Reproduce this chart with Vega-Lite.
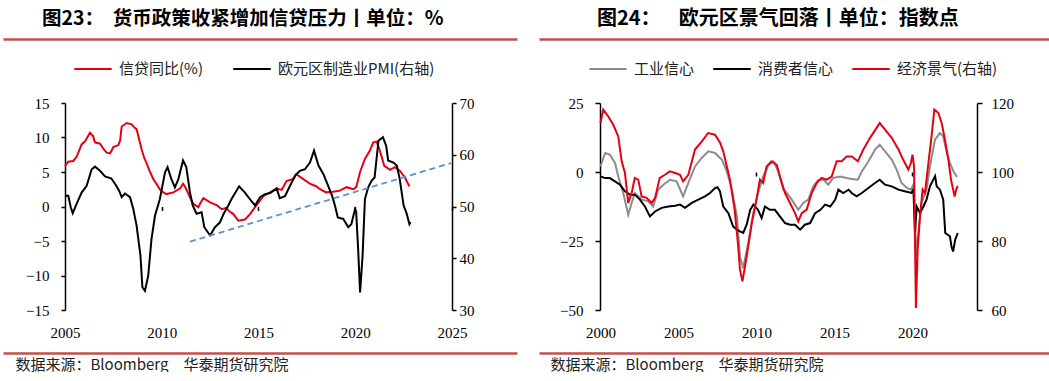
{
  "$schema": "https://vega.github.io/schema/vega-lite/v6.json",
  "background": "white",
  "padding": {"left": 3, "top": 8, "right": 0, "bottom": 0},
  "spacing": 22,
  "config": {
    "view": {"stroke": null},
    "axis": {"grid": false, "title": null, "labelFont": "Times New Roman, Liberation Serif, serif", "labelFontSize": 15, "labelColor": "#000", "domainColor": "#000", "tickColor": "#000", "domainWidth": 1.5, "tickWidth": 1.5},
    "title": {"font": "Noto Sans CJK SC", "fontSize": 20, "fontWeight": "bold", "color": "#000", "anchor": "start", "offset": 10},
    "legend": {"orient": "none", "direction": "horizontal", "title": null, "symbolType": "stroke", "symbolStrokeWidth": 2, "symbolSize": 1400, "labelFont": "Noto Sans CJK SC", "labelFontSize": 15, "labelColor": "#222", "labelOffset": 6, "columnPadding": 26, "labelLimit": 400}
  },
  "datasets": {
    "credit": [
      {"t": 2005.0, "v": 5.9}, {"t": 2005.17, "v": 6.5}, {"t": 2005.43, "v": 6.6}, {"t": 2005.6, "v": 7.2}, {"t": 2005.86, "v": 9.0}, {"t": 2006.05, "v": 9.5}, {"t": 2006.29, "v": 10.7}, {"t": 2006.45, "v": 10.2}, {"t": 2006.55, "v": 9.3}, {"t": 2006.81, "v": 9.1}, {"t": 2007.0, "v": 8.3}, {"t": 2007.15, "v": 7.8}, {"t": 2007.33, "v": 7.7}, {"t": 2007.5, "v": 8.6}, {"t": 2007.76, "v": 8.9}, {"t": 2007.85, "v": 9.6}, {"t": 2007.93, "v": 11.6}, {"t": 2008.19, "v": 12.1}, {"t": 2008.45, "v": 11.9}, {"t": 2008.6, "v": 11.4}, {"t": 2008.7, "v": 11.2}, {"t": 2008.96, "v": 8.3}, {"t": 2009.1, "v": 7.0}, {"t": 2009.2, "v": 6.4}, {"t": 2009.35, "v": 5.3}, {"t": 2009.56, "v": 4.0}, {"t": 2009.75, "v": 3.2}, {"t": 2009.9, "v": 2.5}, {"t": 2010.1, "v": 2.0}, {"t": 2010.25, "v": 1.8}, {"t": 2010.6, "v": 2.05}, {"t": 2010.94, "v": 2.6}, {"t": 2011.1, "v": 3.3}, {"t": 2011.2, "v": 2.9}, {"t": 2011.35, "v": 2.0}, {"t": 2011.46, "v": 1.3}, {"t": 2011.63, "v": 0.4}, {"t": 2011.89, "v": -0.1}, {"t": 2012.0, "v": 0.5}, {"t": 2012.15, "v": 1.2}, {"t": 2012.5, "v": 0.6}, {"t": 2012.84, "v": 0.2}, {"t": 2013.1, "v": -0.4}, {"t": 2013.33, "v": -0.2}, {"t": 2013.5, "v": -0.7}, {"t": 2013.7, "v": -1.1}, {"t": 2013.96, "v": -2.05}, {"t": 2014.3, "v": -1.9}, {"t": 2014.56, "v": -1.1}, {"t": 2014.9, "v": 0.2}, {"t": 2015.25, "v": 1.5}, {"t": 2015.6, "v": 2.05}, {"t": 2015.94, "v": 2.6}, {"t": 2016.2, "v": 2.4}, {"t": 2016.45, "v": 3.7}, {"t": 2016.8, "v": 4.0}, {"t": 2016.95, "v": 4.7}, {"t": 2017.3, "v": 4.0}, {"t": 2017.66, "v": 3.3}, {"t": 2018.0, "v": 2.9}, {"t": 2018.18, "v": 2.5}, {"t": 2018.5, "v": 2.05}, {"t": 2018.86, "v": 2.15}, {"t": 2019.2, "v": 2.3}, {"t": 2019.55, "v": 2.8}, {"t": 2019.9, "v": 2.5}, {"t": 2020.05, "v": 2.8}, {"t": 2020.25, "v": 5.0}, {"t": 2020.5, "v": 6.9}, {"t": 2020.76, "v": 8.1}, {"t": 2020.93, "v": 9.3}, {"t": 2021.1, "v": 9.4}, {"t": 2021.25, "v": 8.3}, {"t": 2021.5, "v": 5.9}, {"t": 2021.8, "v": 5.3}, {"t": 2022.05, "v": 5.7}, {"t": 2022.3, "v": 5.2}, {"t": 2022.57, "v": 4.2}, {"t": 2022.8, "v": 2.9}
    ],
    "pmi": [
      {"t": 2005.0, "v": 52.1}, {"t": 2005.17, "v": 52.1}, {"t": 2005.3, "v": 49.8}, {"t": 2005.4, "v": 48.7}, {"t": 2005.6, "v": 50.5}, {"t": 2005.86, "v": 52.7}, {"t": 2006.12, "v": 54.0}, {"t": 2006.38, "v": 57.2}, {"t": 2006.55, "v": 57.7}, {"t": 2006.81, "v": 56.9}, {"t": 2007.07, "v": 55.8}, {"t": 2007.4, "v": 55.4}, {"t": 2007.65, "v": 54.0}, {"t": 2007.8, "v": 53.0}, {"t": 2007.93, "v": 51.8}, {"t": 2008.1, "v": 52.5}, {"t": 2008.36, "v": 51.8}, {"t": 2008.53, "v": 49.5}, {"t": 2008.7, "v": 46.3}, {"t": 2008.9, "v": 40.5}, {"t": 2009.0, "v": 34.4}, {"t": 2009.13, "v": 33.7}, {"t": 2009.3, "v": 36.6}, {"t": 2009.47, "v": 43.7}, {"t": 2009.65, "v": 48.2}, {"t": 2009.9, "v": 51.4}, {"t": 2010.17, "v": 56.6}, {"t": 2010.3, "v": 57.6}, {"t": 2010.5, "v": 55.3}, {"t": 2010.68, "v": 53.7}, {"t": 2010.86, "v": 55.3}, {"t": 2011.1, "v": 58.9}, {"t": 2011.27, "v": 57.6}, {"t": 2011.46, "v": 52.7}, {"t": 2011.6, "v": 50.2}, {"t": 2011.8, "v": 48.6}, {"t": 2012.06, "v": 48.9}, {"t": 2012.2, "v": 46.0}, {"t": 2012.5, "v": 44.4}, {"t": 2012.75, "v": 46.0}, {"t": 2013.0, "v": 46.9}, {"t": 2013.2, "v": 48.6}, {"t": 2013.44, "v": 50.2}, {"t": 2013.6, "v": 51.4}, {"t": 2014.0, "v": 53.9}, {"t": 2014.3, "v": 52.7}, {"t": 2014.56, "v": 51.4}, {"t": 2014.82, "v": 50.2}, {"t": 2015.08, "v": 51.8}, {"t": 2015.34, "v": 52.4}, {"t": 2015.6, "v": 52.6}, {"t": 2015.94, "v": 53.5}, {"t": 2016.1, "v": 51.6}, {"t": 2016.37, "v": 52.0}, {"t": 2016.63, "v": 54.0}, {"t": 2016.9, "v": 56.0}, {"t": 2017.14, "v": 56.9}, {"t": 2017.4, "v": 57.2}, {"t": 2017.66, "v": 58.5}, {"t": 2017.87, "v": 60.8}, {"t": 2018.1, "v": 57.9}, {"t": 2018.35, "v": 56.3}, {"t": 2018.6, "v": 54.0}, {"t": 2018.8, "v": 52.1}, {"t": 2018.95, "v": 50.2}, {"t": 2019.1, "v": 47.9}, {"t": 2019.38, "v": 47.6}, {"t": 2019.64, "v": 46.0}, {"t": 2019.8, "v": 46.6}, {"t": 2019.99, "v": 49.5}, {"t": 2020.05, "v": 48.9}, {"t": 2020.15, "v": 41.8}, {"t": 2020.25, "v": 33.4}, {"t": 2020.38, "v": 40.5}, {"t": 2020.5, "v": 51.4}, {"t": 2020.67, "v": 53.7}, {"t": 2020.85, "v": 55.0}, {"t": 2021.0, "v": 55.6}, {"t": 2021.2, "v": 62.7}, {"t": 2021.43, "v": 63.4}, {"t": 2021.6, "v": 61.7}, {"t": 2021.7, "v": 58.9}, {"t": 2021.97, "v": 58.5}, {"t": 2022.15, "v": 57.9}, {"t": 2022.3, "v": 55.3}, {"t": 2022.5, "v": 50.2}, {"t": 2022.66, "v": 48.6}, {"t": 2022.8, "v": 46.6}, {"t": 2022.85, "v": 47.0}
    ],
    "trend": [{"t": 2011.46, "v": -5.1}, {"t": 2024.95, "v": 6.3}],
    "industry": [
      {"t": 2000.0, "v": 2.0}, {"t": 2000.3, "v": 6.9}, {"t": 2000.6, "v": 6.3}, {"t": 2000.93, "v": 3.3}, {"t": 2001.14, "v": -1.6}, {"t": 2001.46, "v": -7.6}, {"t": 2001.78, "v": -15.5}, {"t": 2002.0, "v": -11.2}, {"t": 2002.2, "v": -7.6}, {"t": 2002.65, "v": -10.0}, {"t": 2003.06, "v": -10.6}, {"t": 2003.38, "v": -12.5}, {"t": 2003.7, "v": -6.4}, {"t": 2004.03, "v": -4.6}, {"t": 2004.46, "v": -2.8}, {"t": 2004.88, "v": -3.4}, {"t": 2005.3, "v": -8.8}, {"t": 2005.63, "v": -4.0}, {"t": 2006.06, "v": 2.0}, {"t": 2006.49, "v": 5.1}, {"t": 2006.92, "v": 7.5}, {"t": 2007.35, "v": 6.9}, {"t": 2007.66, "v": 5.1}, {"t": 2007.78, "v": 4.5}, {"t": 2008.1, "v": 0.2}, {"t": 2008.4, "v": -5.8}, {"t": 2008.75, "v": -16.1}, {"t": 2008.94, "v": -30.6}, {"t": 2009.15, "v": -34.8}, {"t": 2009.47, "v": -25.7}, {"t": 2009.8, "v": -14.9}, {"t": 2010.1, "v": -7.6}, {"t": 2010.43, "v": -1.6}, {"t": 2010.77, "v": 2.6}, {"t": 2011.09, "v": 3.8}, {"t": 2011.4, "v": 0.2}, {"t": 2011.73, "v": -6.4}, {"t": 2011.94, "v": -7.6}, {"t": 2012.26, "v": -10.0}, {"t": 2012.68, "v": -13.7}, {"t": 2013.0, "v": -11.2}, {"t": 2013.32, "v": -10.0}, {"t": 2013.64, "v": -5.2}, {"t": 2013.97, "v": -2.8}, {"t": 2014.3, "v": -2.8}, {"t": 2014.6, "v": -4.6}, {"t": 2014.9, "v": -2.2}, {"t": 2015.35, "v": -1.6}, {"t": 2015.78, "v": -2.2}, {"t": 2016.1, "v": -2.5}, {"t": 2016.5, "v": -2.8}, {"t": 2016.75, "v": 0.2}, {"t": 2017.17, "v": 3.8}, {"t": 2017.6, "v": 8.1}, {"t": 2017.9, "v": 9.9}, {"t": 2018.24, "v": 7.5}, {"t": 2018.67, "v": 4.5}, {"t": 2018.99, "v": 0.8}, {"t": 2019.3, "v": -4.0}, {"t": 2019.64, "v": -5.8}, {"t": 2019.9, "v": -6.4}, {"t": 2020.06, "v": -4.6}, {"t": 2020.16, "v": -16.1}, {"t": 2020.22, "v": -30.6}, {"t": 2020.37, "v": -22.1}, {"t": 2020.58, "v": -11.2}, {"t": 2020.9, "v": -6.4}, {"t": 2021.12, "v": 2.0}, {"t": 2021.44, "v": 11.7}, {"t": 2021.76, "v": 14.1}, {"t": 2021.97, "v": 12.9}, {"t": 2022.2, "v": 6.9}, {"t": 2022.4, "v": 3.3}, {"t": 2022.63, "v": 0.2}, {"t": 2022.85, "v": -1.8}
    ],
    "consumer": [
      {"t": 2000.0, "v": -1.6}, {"t": 2000.3, "v": -2.2}, {"t": 2000.6, "v": -2.2}, {"t": 2000.93, "v": -3.4}, {"t": 2001.25, "v": -4.6}, {"t": 2001.57, "v": -7.0}, {"t": 2001.9, "v": -8.2}, {"t": 2002.2, "v": -8.2}, {"t": 2002.53, "v": -10.0}, {"t": 2002.85, "v": -12.5}, {"t": 2003.17, "v": -16.1}, {"t": 2003.5, "v": -14.3}, {"t": 2003.92, "v": -13.0}, {"t": 2004.35, "v": -12.5}, {"t": 2004.78, "v": -12.2}, {"t": 2005.1, "v": -11.8}, {"t": 2005.42, "v": -13.0}, {"t": 2005.85, "v": -11.2}, {"t": 2006.27, "v": -10.0}, {"t": 2006.7, "v": -8.8}, {"t": 2007.02, "v": -7.6}, {"t": 2007.34, "v": -5.8}, {"t": 2007.5, "v": -5.5}, {"t": 2007.66, "v": -7.0}, {"t": 2007.87, "v": -12.5}, {"t": 2008.2, "v": -14.9}, {"t": 2008.5, "v": -19.7}, {"t": 2008.75, "v": -20.9}, {"t": 2008.94, "v": -21.5}, {"t": 2009.15, "v": -22.1}, {"t": 2009.37, "v": -19.1}, {"t": 2009.6, "v": -13.7}, {"t": 2009.8, "v": -11.8}, {"t": 2010.1, "v": -13.7}, {"t": 2010.33, "v": -16.7}, {"t": 2010.54, "v": -12.5}, {"t": 2010.86, "v": -13.7}, {"t": 2011.18, "v": -13.7}, {"t": 2011.5, "v": -16.1}, {"t": 2011.83, "v": -18.5}, {"t": 2012.15, "v": -19.1}, {"t": 2012.47, "v": -19.1}, {"t": 2012.8, "v": -20.9}, {"t": 2013.1, "v": -19.1}, {"t": 2013.44, "v": -18.5}, {"t": 2013.76, "v": -14.9}, {"t": 2014.1, "v": -13.7}, {"t": 2014.4, "v": -11.8}, {"t": 2014.73, "v": -12.5}, {"t": 2015.05, "v": -10.0}, {"t": 2015.25, "v": -6.4}, {"t": 2015.56, "v": -7.6}, {"t": 2015.9, "v": -6.4}, {"t": 2016.1, "v": -7.6}, {"t": 2016.42, "v": -8.8}, {"t": 2016.75, "v": -7.6}, {"t": 2017.17, "v": -5.8}, {"t": 2017.6, "v": -4.0}, {"t": 2017.9, "v": -2.8}, {"t": 2018.24, "v": -4.6}, {"t": 2018.67, "v": -5.2}, {"t": 2019.1, "v": -6.4}, {"t": 2019.5, "v": -7.0}, {"t": 2019.93, "v": -7.6}, {"t": 2020.06, "v": -6.4}, {"t": 2020.16, "v": -22.1}, {"t": 2020.27, "v": -12.5}, {"t": 2020.48, "v": -14.9}, {"t": 2020.7, "v": -12.5}, {"t": 2020.9, "v": -10.0}, {"t": 2021.12, "v": -5.2}, {"t": 2021.33, "v": -2.8}, {"t": 2021.45, "v": -1.5}, {"t": 2021.55, "v": -5.2}, {"t": 2021.76, "v": -6.4}, {"t": 2021.97, "v": -10.0}, {"t": 2022.1, "v": -22.1}, {"t": 2022.4, "v": -23.3}, {"t": 2022.5, "v": -27.0}, {"t": 2022.6, "v": -28.8}, {"t": 2022.74, "v": -24.5}, {"t": 2022.9, "v": -22.1}
    ],
    "esi": [
      {"t": 2000.0, "v": 114.2}, {"t": 2000.18, "v": 118.1}, {"t": 2000.5, "v": 116.1}, {"t": 2000.82, "v": 113.7}, {"t": 2001.14, "v": 110.3}, {"t": 2001.36, "v": 103.1}, {"t": 2001.57, "v": 99.7}, {"t": 2001.78, "v": 91.0}, {"t": 2002.0, "v": 93.9}, {"t": 2002.2, "v": 98.3}, {"t": 2002.42, "v": 97.8}, {"t": 2002.64, "v": 92.9}, {"t": 2002.96, "v": 92.5}, {"t": 2003.28, "v": 91.0}, {"t": 2003.5, "v": 92.5}, {"t": 2003.8, "v": 98.3}, {"t": 2004.13, "v": 99.2}, {"t": 2004.45, "v": 100.2}, {"t": 2004.78, "v": 99.7}, {"t": 2005.1, "v": 99.2}, {"t": 2005.3, "v": 97.3}, {"t": 2005.63, "v": 99.2}, {"t": 2006.06, "v": 106.5}, {"t": 2006.5, "v": 108.9}, {"t": 2006.9, "v": 111.3}, {"t": 2007.34, "v": 110.8}, {"t": 2007.66, "v": 108.6}, {"t": 2007.87, "v": 106.0}, {"t": 2008.1, "v": 101.6}, {"t": 2008.3, "v": 97.8}, {"t": 2008.6, "v": 89.1}, {"t": 2008.83, "v": 78.4}, {"t": 2008.94, "v": 71.7}, {"t": 2009.1, "v": 68.3}, {"t": 2009.37, "v": 75.5}, {"t": 2009.7, "v": 85.2}, {"t": 2010.0, "v": 92.0}, {"t": 2010.22, "v": 97.8}, {"t": 2010.43, "v": 96.8}, {"t": 2010.65, "v": 101.6}, {"t": 2010.97, "v": 103.1}, {"t": 2011.3, "v": 102.1}, {"t": 2011.5, "v": 98.7}, {"t": 2011.83, "v": 93.9}, {"t": 2012.15, "v": 91.0}, {"t": 2012.47, "v": 88.1}, {"t": 2012.68, "v": 85.7}, {"t": 2012.9, "v": 88.1}, {"t": 2013.22, "v": 89.1}, {"t": 2013.54, "v": 93.9}, {"t": 2013.86, "v": 96.8}, {"t": 2014.18, "v": 98.3}, {"t": 2014.5, "v": 97.8}, {"t": 2014.82, "v": 98.7}, {"t": 2015.14, "v": 103.1}, {"t": 2015.46, "v": 103.1}, {"t": 2015.78, "v": 104.5}, {"t": 2016.1, "v": 104.5}, {"t": 2016.5, "v": 103.1}, {"t": 2016.85, "v": 106.5}, {"t": 2017.28, "v": 109.9}, {"t": 2017.7, "v": 112.8}, {"t": 2017.9, "v": 114.2}, {"t": 2018.24, "v": 112.3}, {"t": 2018.67, "v": 109.9}, {"t": 2019.1, "v": 106.5}, {"t": 2019.4, "v": 103.6}, {"t": 2019.73, "v": 100.7}, {"t": 2019.9, "v": 102.6}, {"t": 2020.0, "v": 105.0}, {"t": 2020.1, "v": 101.6}, {"t": 2020.16, "v": 80.4}, {"t": 2020.22, "v": 60.6}, {"t": 2020.33, "v": 77.5}, {"t": 2020.48, "v": 87.1}, {"t": 2020.65, "v": 94.9}, {"t": 2020.8, "v": 93.9}, {"t": 2020.97, "v": 100.7}, {"t": 2021.2, "v": 109.4}, {"t": 2021.4, "v": 118.1}, {"t": 2021.66, "v": 117.1}, {"t": 2021.87, "v": 114.2}, {"t": 2022.08, "v": 109.4}, {"t": 2022.3, "v": 103.6}, {"t": 2022.47, "v": 97.8}, {"t": 2022.7, "v": 92.9}, {"t": 2022.8, "v": 94.9}, {"t": 2022.9, "v": 96.0}
    ]
  },
  "hconcat": [
    {
      "width": 514,
      "height": 207,
      "title": {"text": "图23：\u00a0\u00a0货币政策收紧增加信贷压力丨单位：%", "dx": 39, "fontSize": 19.5},
      "resolve": {"scale": {"y": "independent"}, "axis": {"x": "independent", "y": "independent"}},
      "layer": [
        {
          "data": {"name": "credit"},
          "mark": {"type": "line", "strokeWidth": 2},
          "encoding": {
            "x": {"field": "t", "type": "quantitative", "scale": {"domain": [2001.796, 2028.36], "nice": false, "zero": false},
                  "axis": {"orient": "bottom", "values": [2005, 2010, 2015, 2020, 2025], "format": "d", "domain": false, "ticks": false, "labelPadding": 15, "labelFont": "Times New Roman, Liberation Serif, serif", "labelFontSize": 15}},
            "y": {"field": "v", "type": "quantitative", "scale": {"domain": [-15, 15], "nice": false, "zero": false},
                  "axis": {"orient": "left", "offset": -62, "values": [-15, -10, -5, 0, 5, 10, 15], "tickSize": 4, "labelPadding": 12, "labelFont": "Times New Roman, Liberation Serif, serif", "labelFontSize": 15}},
            "color": {"datum": "信贷同比(%)", "scale": {"domain": ["信贷同比(%)", "欧元区制造业PMI(右轴)"], "range": ["#E60012", "#000000"]},
                      "legend": {"legendX": 70, "legendY": -54, "columnPadding": 26}}
          }
        },
        {
          "data": {"name": "pmi"},
          "mark": {"type": "line", "strokeWidth": 2},
          "encoding": {
            "x": {"field": "t", "type": "quantitative", "scale": {"domain": [2001.796, 2028.36], "nice": false, "zero": false},
                  "axis": {"orient": "bottom", "offset": -103.5, "values": [2010, 2015, 2020, 2025], "labels": false, "domain": false, "tickSize": 4}},
            "y": {"field": "v", "type": "quantitative", "scale": {"domain": [30, 70], "nice": false, "zero": false},
                  "axis": {"orient": "right", "offset": -65, "values": [30, 40, 50, 60, 70], "tickSize": 4, "labelPadding": 3, "labelFont": "Times New Roman, Liberation Serif, serif", "labelFontSize": 15}},
            "color": {"datum": "欧元区制造业PMI(右轴)", "legend": {"legendX": 70, "legendY": -54, "columnPadding": 26}}
          }
        },
        {
          "data": {"name": "trend"},
          "mark": {"type": "line", "strokeWidth": 1.8, "strokeDash": [6, 4], "color": "#5B8FD0"},
          "encoding": {
            "x": {"field": "t", "type": "quantitative", "scale": {"domain": [2001.796, 2028.36], "nice": false, "zero": false},
                  "axis": {"orient": "top", "offset": 64, "labels": false, "ticks": false, "domain": true, "domainColor": "#C0504D", "domainWidth": 2.5}},
            "y": {"field": "v", "type": "quantitative", "scale": {"domain": [-15, 15], "nice": false, "zero": false}, "axis": null}
          }
        },
        {
          "mark": {"type": "rule", "color": "#000", "strokeWidth": 1.5},
          "encoding": {
            "x": {"datum": 2005, "type": "quantitative", "scale": {"domain": [2001.796, 2028.36], "nice": false, "zero": false},
                  "axis": {"orient": "bottom", "offset": 43, "labels": false, "ticks": false, "domain": true, "domainColor": "#C0504D", "domainWidth": 2.5,
                           "title": "数据来源：Bloomberg　华泰期货研究院", "titleFont": "Noto Sans CJK SC", "titleFontWeight": "normal", "titleFontSize": 15, "titleColor": "#222", "titleAnchor": "start", "titleAlign": "left", "titleX": 12, "titleY": 11, "titleBaseline": "middle"}},
            "x2": {"datum": 2025},
            "y": {"datum": 0, "type": "quantitative", "scale": {"domain": [-15, 15], "nice": false, "zero": false}, "axis": null}
          }
        }
      ]
    },
    {
      "width": 510,
      "height": 207,
      "title": {"text": "图24：\u00a0\u00a0\u00a0\u00a0欧元区景气回落丨单位：指数点", "dx": 58, "fontSize": 20},
      "resolve": {"scale": {"y": "independent"}, "axis": {"x": "independent", "y": "independent"}},
      "layer": [
        {
          "data": {"name": "industry"},
          "mark": {"type": "line", "strokeWidth": 2},
          "encoding": {
            "x": {"field": "t", "type": "quantitative", "scale": {"domain": [1996.06, 2028.75], "nice": false, "zero": false},
                  "axis": {"orient": "bottom", "values": [2000, 2005, 2010, 2015, 2020], "format": "d", "domain": false, "ticks": false, "labelPadding": 15, "labelFont": "Times New Roman, Liberation Serif, serif", "labelFontSize": 15}},
            "y": {"field": "v", "type": "quantitative", "scale": {"domain": [-50, 25], "nice": false, "zero": false},
                  "axis": {"orient": "left", "offset": -61, "values": [-50, -25, 0, 25], "tickSize": 5, "labelPadding": 12, "labelFont": "Times New Roman, Liberation Serif, serif", "labelFontSize": 15}},
            "color": {"datum": "工业信心", "scale": {"domain": ["工业信心", "消费者信心", "经济景气(右轴)"], "range": ["#8C8C8C", "#000000", "#E60012"]},
                      "legend": {"legendX": 49, "legendY": -54, "columnPadding": 14}}
          }
        },
        {
          "data": {"name": "consumer"},
          "mark": {"type": "line", "strokeWidth": 2},
          "encoding": {
            "x": {"field": "t", "type": "quantitative", "scale": {"domain": [1996.06, 2028.75], "nice": false, "zero": false},
                  "axis": {"orient": "bottom", "offset": -138, "values": [2010, 2020], "labels": false, "domain": false, "tickSize": 4}},
            "y": {"field": "v", "type": "quantitative", "scale": {"domain": [-50, 25], "nice": false, "zero": false}, "axis": null},
            "color": {"datum": "消费者信心", "legend": {"legendX": 49, "legendY": -54, "columnPadding": 14}}
          }
        },
        {
          "data": {"name": "esi"},
          "mark": {"type": "line", "strokeWidth": 2},
          "encoding": {
            "x": {"field": "t", "type": "quantitative", "scale": {"domain": [1996.06, 2028.75], "nice": false, "zero": false},
                  "axis": {"orient": "top", "offset": 64, "labels": false, "ticks": false, "domain": true, "domainColor": "#C0504D", "domainWidth": 2.5}},
            "y": {"field": "v", "type": "quantitative", "scale": {"domain": [60, 120], "nice": false, "zero": false},
                  "axis": {"orient": "right", "offset": -72, "values": [60, 80, 100, 120], "tickSize": 5, "labelPadding": 9, "labelFont": "Times New Roman, Liberation Serif, serif", "labelFontSize": 15}},
            "color": {"datum": "经济景气(右轴)", "legend": {"legendX": 49, "legendY": -54, "columnPadding": 14}}
          }
        },
        {
          "mark": {"type": "rule", "color": "#000", "strokeWidth": 1.5},
          "encoding": {
            "x": {"datum": 2000, "type": "quantitative", "scale": {"domain": [1996.06, 2028.75], "nice": false, "zero": false},
                  "axis": {"orient": "bottom", "offset": 43, "labels": false, "ticks": false, "domain": true, "domainColor": "#C0504D", "domainWidth": 2.5,
                           "title": "数据来源：Bloomberg　华泰期货研究院", "titleFont": "Noto Sans CJK SC", "titleFontWeight": "normal", "titleFontSize": 15, "titleColor": "#222", "titleAnchor": "start", "titleAlign": "left", "titleX": 11, "titleY": 11, "titleBaseline": "middle"}},
            "x2": {"datum": 2024.1},
            "y": {"datum": 0, "type": "quantitative", "scale": {"domain": [-50, 25], "nice": false, "zero": false}, "axis": null}
          }
        }
      ]
    }
  ],
  "resolve": {"scale": {"color": "independent"}, "legend": {"color": "independent"}}
}
